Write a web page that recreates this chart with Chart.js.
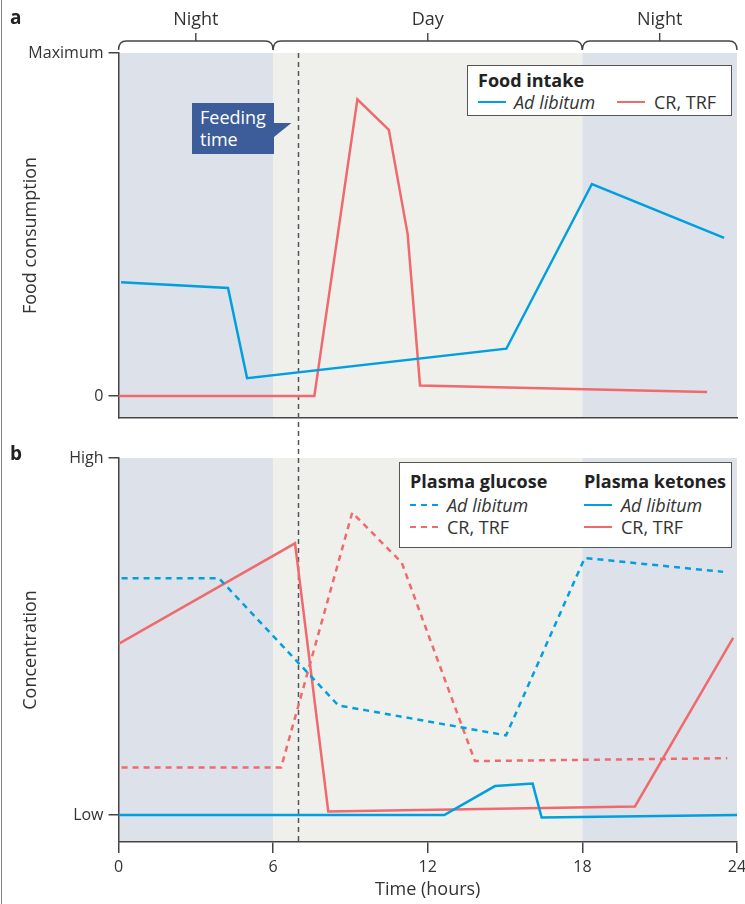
<!DOCTYPE html>
<html>
<head>
<meta charset="utf-8">
<script src="https://cdn.jsdelivr.net/npm/chart.js@4/dist/chart.umd.min.js"></script>
<style>
body{margin:0;background:#fff;font-family:"Open Sans",sans-serif;color:#333;}
#wrap{position:relative;width:745px;height:904px;overflow:hidden;}
#frame{position:absolute;left:1px;top:0;height:904px;border-left:1.5px solid #808080;}
canvas{position:absolute;left:0;}
.txt{position:absolute;white-space:nowrap;line-height:1;}
.panel{font-weight:bold;font-size:19px;color:#222;}
.period{font-size:18px;transform:translateX(-50%);}
#feed{position:absolute;left:192px;top:103px;width:82px;height:51px;background:#3c5d99;}
#feedtip{position:absolute;left:274px;top:122.5px;width:18px;height:14.5px;background:#3c5d99;clip-path:polygon(0 0,100% 0,0 100%);}
#feed span{position:absolute;left:8px;color:#fff;font-size:18px;line-height:22px;}
.legend{position:absolute;background:#fff;border:1.5px solid #555;box-sizing:border-box;}
.legend .ttl{position:absolute;font-weight:bold;font-size:18px;color:#222;white-space:nowrap;line-height:1;}
.legend .it{position:absolute;font-size:18px;white-space:nowrap;line-height:1;}
.legend .sw{position:absolute;width:28px;height:0;}
</style>
</head>
<body>
<div id="wrap">
  <div id="frame"></div>
  <canvas id="chartA" width="745" height="458" style="top:0"></canvas>
  <canvas id="chartB" width="745" height="464" style="top:440px"></canvas>

  <div class="txt panel" style="left:10px;top:8px">a</div>
  <div class="txt panel" style="left:10px;top:444px">b</div>
  <div id="periodLabels"></div>

  <div id="feed"><span style="top:3px">Feeding</span><span style="top:25px">time</span></div>
  <div id="feedtip"></div>

  <div class="legend" style="left:467px;top:65px;width:265px;height:51px">
    <div class="ttl" style="left:10px;top:5px">Food intake</div>
    <div class="sw" style="left:10px;top:35px;border-top:2.5px solid #009fdf"></div>
    <div class="it" style="left:46px;top:27px;font-style:italic">Ad libitum</div>
    <div class="sw" style="left:149px;top:35px;border-top:2.5px solid #ef6a6c"></div>
    <div class="it" style="left:186px;top:27px">CR, TRF</div>
  </div>

  <div class="legend" style="left:399px;top:462px;width:333px;height:86px">
    <div class="ttl" style="left:10px;top:9px">Plasma glucose</div>
    <div class="ttl" style="left:184px;top:9px">Plasma ketones</div>
    <div class="sw" style="left:10px;top:41px;border-top:2.5px dashed #009fdf"></div>
    <div class="it" style="left:47px;top:33px;font-style:italic">Ad libitum</div>
    <div class="sw" style="left:10px;top:63px;border-top:2.5px dashed #ef6a6c"></div>
    <div class="it" style="left:47px;top:55px">CR, TRF</div>
    <div class="sw" style="left:184px;top:41px;border-top:2.5px solid #009fdf"></div>
    <div class="it" style="left:221px;top:33px;font-style:italic">Ad libitum</div>
    <div class="sw" style="left:184px;top:63px;border-top:2.5px solid #ef6a6c"></div>
    <div class="it" style="left:221px;top:55px">CR, TRF</div>
  </div>
</div>
<script>
// time axis
const xTicks = [0, 6, 12, 18, 24];
const periodStarts = [0, 6, 18];
const periodEnds = [6, 18, 24];
const periodLabels = ['Night', 'Day', 'Night'];
const feedingHour = 6.95;

// panel a: food consumption (0 .. Maximum = 1)
const foodAdLibHours = [0.1, 4.25, 4.99, 15.05, 18.37, 23.5];
const foodAdLib = [0.332, 0.315, 0.052, 0.138, 0.618, 0.461];
const foodCrHours = [0, 7.6, 9.27, 10.49, 11.22, 11.7, 22.84];
const foodCr = [0, 0, 0.865, 0.776, 0.472, 0.031, 0.012];
const yTicksA = [0, 1];
const yLabelsA = ['0', 'Maximum'];

// panel b: concentration (Low = 0 .. High = 1)
const glucoseAdLibHours = [0.12, 3.9, 8.53, 15.04, 18.09, 23.46];
const glucoseAdLib = [0.663, 0.663, 0.307, 0.223, 0.72, 0.681];
const glucoseCrHours = [0.12, 6.31, 9.07, 10.99, 13.83, 23.62];
const glucoseCr = [0.133, 0.133, 0.847, 0.707, 0.151, 0.159];
const ketoneAdLibHours = [0, 12.64, 14.61, 16.07, 16.42, 24];
const ketoneAdLib = [0, 0, 0.081, 0.088, -0.007, 0];
const ketoneCrHours = [0, 6.85, 8.14, 20.04, 23.85];
const ketoneCr = [0.479, 0.761, 0.01, 0.024, 0.496];
const yTicksB = [0, 1];
const yLabelsB = ['Low', 'High'];

const BLUE = '#009fdf';
const RED = '#ef6a6c';
const AXIS = '#444';
const FONT = '"Open Sans", sans-serif';

function pts(xs, ys) {
    return xs.map((x, i) => ({x: x, y: ys[i]}));
}

function series(xs, ys, color, dashed) {
    return {
        data: pts(xs, ys),
        borderColor: color,
        borderWidth: 2.5,
        borderDash: dashed ? [6, 5] : [],
        pointRadius: 0,
        tension: 0,
        fill: false
    };
}

// night/day shading and feeding-time line
const backdrop = {
    id: 'backdrop',
    beforeDraw(chart, args, opts) {
        const {ctx, chartArea} = chart;
        const x = chart.scales.x;
        ctx.save();
        periodStarts.forEach((s, i) => {
            const x1 = x.getPixelForValue(s);
            const x2 = x.getPixelForValue(periodEnds[i]);
            ctx.fillStyle = periodLabels[i] === 'Night' ? '#dde1ea' : '#efefec';
            ctx.fillRect(x1, chartArea.top, x2 - x1, chartArea.bottom - chartArea.top);
        });
        ctx.restore();
    },
    beforeDatasetsDraw(chart, args, opts) {
        const {ctx, chartArea} = chart;
        const fx = Math.round(chart.scales.x.getPixelForValue(feedingHour)) + 0.5;
        ctx.save();
        ctx.strokeStyle = '#555';
        ctx.lineWidth = 1.5;
        ctx.setLineDash([5, 4]);
        ctx.beginPath();
        ctx.moveTo(fx, chartArea.top);
        ctx.lineTo(fx, opts.toEdge ? chart.height : chartArea.bottom);
        ctx.stroke();
        ctx.restore();
    }
};

// curly brackets above panel a
const brackets = {
    id: 'brackets',
    afterDraw(chart) {
        const {ctx, chartArea} = chart;
        const x = chart.scales.x;
        const y0 = chartArea.top - 12, yEnd = chartArea.top - 3, r = 8;
        ctx.save();
        ctx.strokeStyle = AXIS;
        ctx.lineWidth = 1.4;
        periodStarts.forEach((s, i) => {
            const xa = x.getPixelForValue(s);
            const xb = x.getPixelForValue(periodEnds[i]);
            const mid = (xa + xb) / 2;
            ctx.beginPath();
            ctx.moveTo(xa, yEnd);
            ctx.quadraticCurveTo(xa, y0, xa + r, y0);
            ctx.lineTo(xb - r, y0);
            ctx.quadraticCurveTo(xb, y0, xb, yEnd);
            ctx.moveTo(mid, y0);
            ctx.lineTo(mid, y0 - 8);
            ctx.stroke();
        });
        ctx.restore();
    }
};

function yAxis(ticks, labels, min, title) {
    return {
        type: 'linear',
        min: min,
        max: 1,
        afterBuildTicks: (ax) => { ax.ticks = ticks.map(v => ({value: v})); },
        afterFit: (ax) => { ax.width = 118.5; },
        ticks: {
            color: '#333',
            padding: 5,
            font: {family: FONT, size: 16},
            callback: (v) => labels[ticks.indexOf(v)]
        },
        grid: {drawOnChartArea: false, drawTicks: true, tickLength: 10, color: AXIS, lineWidth: 1.5},
        border: {display: true, color: AXIS, width: 1.5},
        title: {display: true, text: title, color: '#333', font: {family: FONT, size: 18}, padding: {top: 20, bottom: 0}}
    };
}

Chart.defaults.font.family = FONT;

const chartA = new Chart(document.getElementById('chartA'), {
    type: 'line',
    data: {
        datasets: [
            series(foodAdLibHours, foodAdLib, BLUE, false),
            series(foodCrHours, foodCr, RED, false)
        ]
    },
    options: {
        responsive: false,
        animation: false,
        layout: {padding: {top: 53, bottom: 40, left: 0, right: 8}},
        plugins: {legend: {display: false}, tooltip: {enabled: false}, backdrop: {toEdge: true}},
        scales: {
            x: {
                type: 'linear', min: 0, max: 24,
                afterFit: (ax) => { ax.height = 0; ax.paddingLeft = 0; ax.paddingRight = 0; },
                ticks: {display: false},
                grid: {display: false},
                border: {display: true, color: AXIS, width: 1.5}
            },
            y: yAxis(yTicksA, yLabelsA, -0.064, 'Food consumption')
        }
    },
    plugins: [backdrop, brackets]
});

const chartB = new Chart(document.getElementById('chartB'), {
    type: 'line',
    data: {
        datasets: [
            series(glucoseAdLibHours, glucoseAdLib, BLUE, true),
            series(glucoseCrHours, glucoseCr, RED, true),
            series(ketoneAdLibHours, ketoneAdLib, BLUE, false),
            series(ketoneCrHours, ketoneCr, RED, false)
        ]
    },
    options: {
        responsive: false,
        animation: false,
        layout: {padding: {top: 18, bottom: 0, left: 0, right: 8}},
        plugins: {legend: {display: false}, tooltip: {enabled: false}, backdrop: {toEdge: false}},
        scales: {
            x: {
                type: 'linear', min: 0, max: 24,
                afterBuildTicks: (ax) => { ax.ticks = xTicks.map(v => ({value: v})); },
                afterFit: (ax) => { ax.height = 62; ax.paddingLeft = 0; ax.paddingRight = 0; },
                ticks: {color: '#333', padding: 5, maxRotation: 0, font: {family: FONT, size: 16}},
                grid: {drawOnChartArea: false, drawTicks: true, tickLength: 11, color: AXIS, lineWidth: 1.5},
                border: {display: true, color: AXIS, width: 1.5},
                title: {display: true, text: 'Time (hours)', color: '#333', font: {family: FONT, size: 18}, padding: {top: 0, bottom: 3}}
            },
            y: yAxis(yTicksB, yLabelsB, -0.0757, 'Concentration')
        }
    },
    plugins: [backdrop]
});

// Night / Day labels over the brackets, placed from the time scale
const holder = document.getElementById('periodLabels');
periodStarts.forEach((s, i) => {
    const d = document.createElement('div');
    d.className = 'txt period';
    d.textContent = periodLabels[i];
    d.style.left = chartA.scales.x.getPixelForValue((s + periodEnds[i]) / 2) + 'px';
    d.style.top = '9px';
    holder.appendChild(d);
});
</script>
</body>
</html>
